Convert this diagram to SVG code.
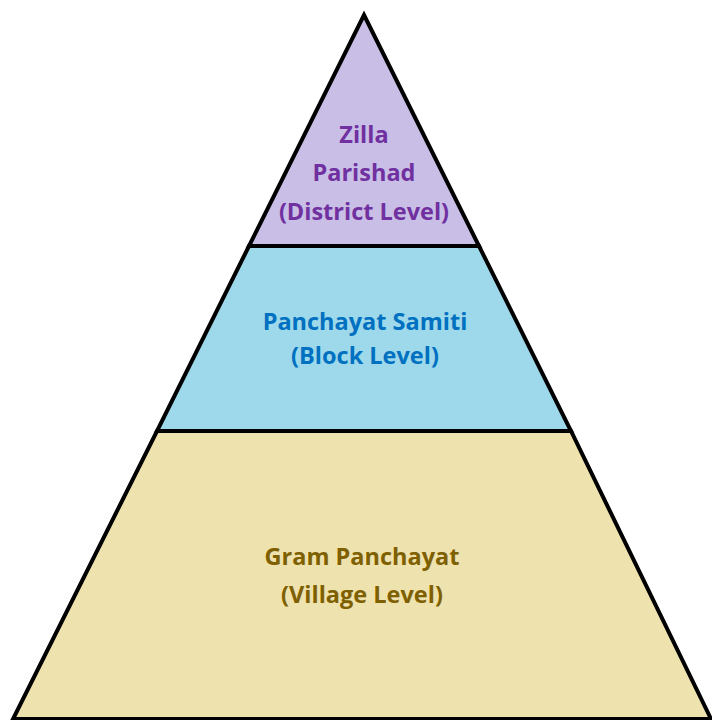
<svg xmlns="http://www.w3.org/2000/svg" width="712" height="720" viewBox="0 0 712 720">
<style>
.band{stroke:#000;stroke-width:4;stroke-linejoin:miter}
.t{font-family:"Open Sans","Liberation Sans",sans-serif;font-weight:bold;font-size:23.5px;text-anchor:middle}
</style>
<rect width="712" height="720" fill="#fff"/>
<g id="zilla">
<polygon class="band" points="364,15 479,246 249,246" fill="#C8BEE6"/>
<text class="t" fill="#7030A0" x="364" y="143">Zilla</text>
<text class="t" fill="#7030A0" x="364" y="181">Parishad</text>
<text class="t" fill="#7030A0" x="364" y="220">(District Level)</text>
</g>
<g id="samiti">
<polygon class="band" points="249,246 479,246 571,431 157,431" fill="#9DD9EA"/>
<text class="t" fill="#0070C0" x="365" y="330">Panchayat Samiti</text>
<text class="t" fill="#0070C0" x="365" y="364">(Block Level)</text>
</g>
<g id="gram">
<polygon class="band" points="157,431 571,431 711,719 13,719" fill="#EEE2AE"/>
<text class="t" fill="#7F6000" x="362" y="565">Gram Panchayat</text>
<text class="t" fill="#7F6000" x="362" y="603">(Village Level)</text>
</g>
</svg>
